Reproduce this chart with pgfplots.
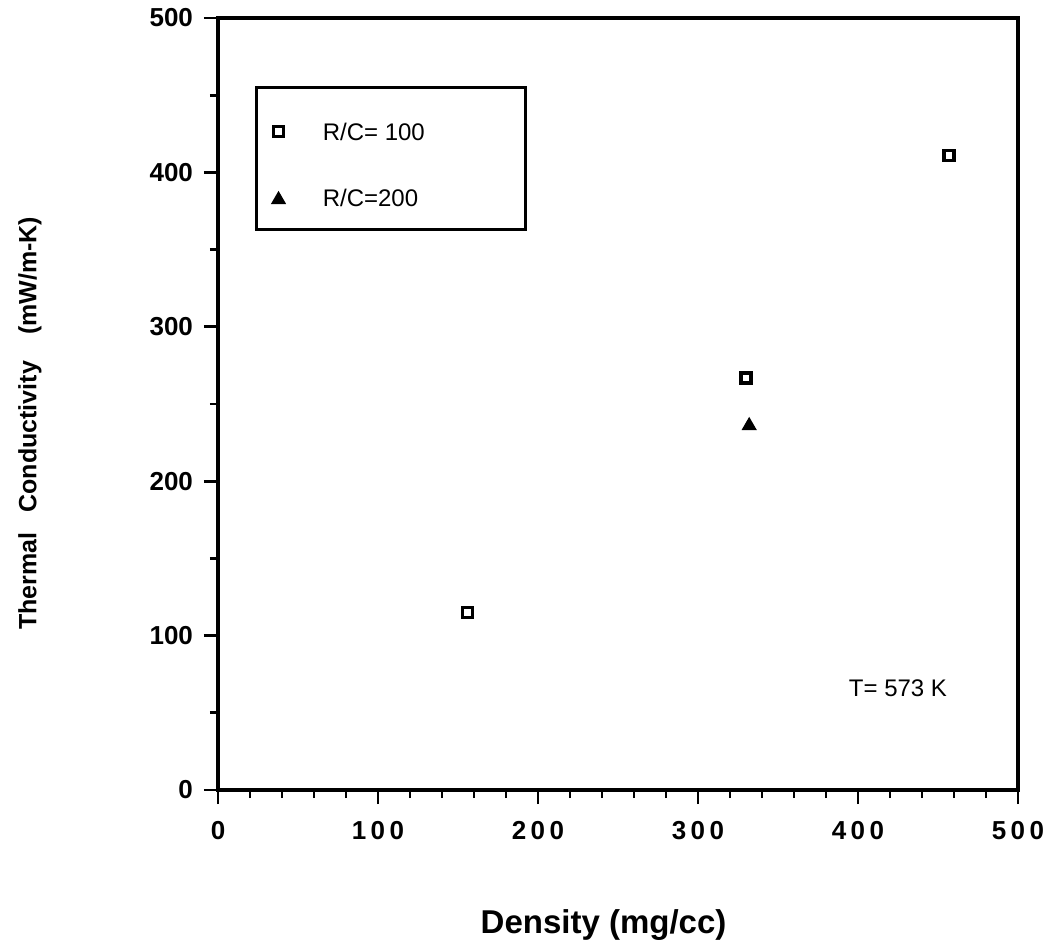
\documentclass[border=0pt]{standalone}
\usepackage{fontspec}
\setmainfont{Liberation Sans}
\usepackage{pgfplots}
\pgfplotsset{compat=1.18}
\pgfplotsset{lowmark legend/.style={
    legend image code/.code={\draw[##1] plot coordinates {(0.3cm,-3pt)};}}}

\begin{document}
\begin{tikzpicture}
% invisible frame giving the page the reference's extent (0.5pt per pixel)
\path (-109pt,-80pt) rectangle (419pt,395pt);

\begin{axis}[
    at={(0,0)}, anchor=south west,
    scale only axis,
    width=400pt, height=386pt,
    xmin=0, xmax=500, ymin=0, ymax=500,
    axis line style={line width=1.6pt},
    xtick={0,100,...,500},
    ytick={0,100,...,500},
    xticklabels={0, 1\,0\,0, 2\,0\,0, 3\,0\,0, 4\,0\,0, 5\,0\,0},
    minor x tick num=4,
    minor y tick num=1,
    xtick pos=left, ytick pos=left,
    tick align=outside,
    major tick length=7pt,
    minor tick length=4pt,
    every tick/.style={black, line width=1.4pt},
    tick label style={font=\fontsize{13}{13}\selectfont\bfseries},
    /pgf/number format/assume math mode=true,
    xticklabel style={yshift=-5pt},
    yticklabel style={xshift=-2pt},
    xlabel={Density (mg/cc)},
    ylabel={Thermal\hspace{10pt}Conductivity\hspace{13pt}(mW/m-K)},
    xlabel style={font=\fontsize{16.5}{16.5}\selectfont\bfseries,
        at={(rel axis cs:0.482,0)}, anchor=center, yshift=-67.5pt},
    ylabel style={font=\fontsize{12.5}{12.5}\selectfont\bfseries,
        at={(rel axis cs:0,0.475)}, anchor=center, yshift=94pt},
    clip=false,
    legend style={
        at={(rel axis cs:0.046,0.912)}, anchor=north west,
        draw=black, line width=1.5pt,
        font=\fontsize{12}{12}\selectfont,
        inner xsep=8pt, inner ysep=8pt,
        row sep=19pt,
        legend cell align=left,
    },
]

\addplot[only marks, mark=square, mark size=2.5pt,
    mark options={line width=1.8pt, black}, lowmark legend]
coordinates {
    (156,115)
    (330,267)
    (457,411)
};
\addlegendentry{\rule{0pt}{16.5pt}\hspace{17pt}\makebox[91.5pt][l]{R/C= 100}}

\addplot[only marks, mark=triangle*, mark size=3.6pt,
    mark options={line width=0.8pt, black, fill=black}]
coordinates {
    (332,236)
};
\addlegendentry{\hspace{17pt}R/C=200}

\node[font=\fontsize{12}{12}\selectfont] at (axis cs:425,66) {T= 573 K};

\end{axis}
\end{tikzpicture}
\end{document}
